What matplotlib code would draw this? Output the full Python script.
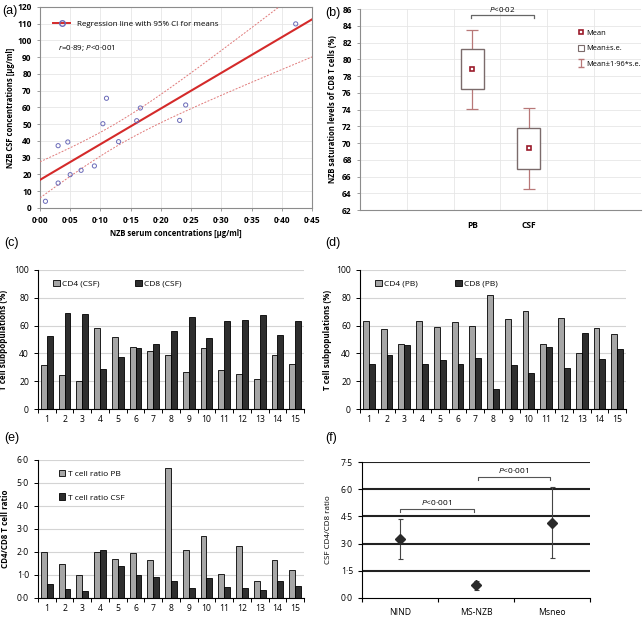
import numpy as np
import matplotlib.pyplot as plt
from matplotlib.lines import Line2D
from matplotlib.patches import Patch, Rectangle
from matplotlib.ticker import FuncFormatter

plt.rcParams['font.family'] = ['Open Sans', 'DejaVu Sans']
plt.rcParams['mathtext.fontset'] = 'custom'
plt.rcParams['mathtext.rm'] = 'Open Sans'
plt.rcParams['mathtext.it'] = 'Open Sans:italic'

# (a) NZB serum vs CSF
serum = [0.009, 0.030, 0.030, 0.046, 0.050, 0.068, 0.090, 0.104, 0.110, 0.130, 0.160, 0.166, 0.231, 0.241, 0.423]
csf_nzb = [4.0, 37.2, 14.9, 39.4, 19.9, 22.5, 25.1, 50.3, 65.5, 39.6, 52.1, 59.7, 52.3, 61.5, 109.9]

# (b) NZB saturation of CD8 T cells
sat_groups = ['PB', 'CSF']
sat_mean = [78.8, 69.35]
sat_se = [2.4, 2.45]

# (c), (d), (e) per subject
subjects = [str(i) for i in range(1, 16)]
cd4_csf = [31.7, 24.8, 19.8, 58.2, 52.0, 44.6, 41.8, 39.1, 26.3, 43.9, 28.4, 25.3, 21.7, 39.1, 32.5]
cd8_csf = [52.7, 69.2, 68.7, 28.9, 37.7, 43.7, 46.8, 56.3, 65.9, 51.3, 63.2, 63.7, 67.8, 53.5, 63.2]
cd4_pb = [63.4, 57.2, 47.1, 63.4, 59.1, 62.7, 60.0, 82.1, 64.8, 70.8, 46.7, 65.6, 40.2, 58.4, 54.1]
cd8_pb = [32.1, 39.2, 46.2, 32.1, 35.2, 32.1, 36.6, 14.6, 31.6, 26.1, 44.5, 29.2, 55.0, 35.9, 43.5]
ratio_pb = [1.98, 1.49, 1.02, 1.98, 1.69, 1.96, 1.65, 5.64, 2.08, 2.71, 1.05, 2.27, 0.72, 1.65, 1.23]
ratio_csf = [0.63, 0.38, 0.32, 2.08, 1.41, 1.02, 0.91, 0.72, 0.42, 0.88, 0.46, 0.42, 0.33, 0.76, 0.52]

# (f) CSF CD4/CD8 ratio by group
f_groups = ['NIND', 'MS-NZB', 'Msneo']
f_mean = [3.25, 0.70, 4.16]
f_err = [1.11, 0.25, 1.98]

LIGHT = '#a6a6a6'
DARK = '#2e2e2e'
dot = FuncFormatter(lambda v, p: f'{v:.2f}'.replace('.', '·'))
dot1 = FuncFormatter(lambda v, p: f'{v:.1f}'.replace('.', '·'))

fig = plt.figure(figsize=(6.44, 6.17), dpi=100)

# ---------- (a)
ax = fig.add_axes([0.0621, 0.6629, 0.4224, 0.3258])
x = np.array(serum)
y = np.array(csf_nzb)
b, a = np.polyfit(x, y, 1)
n = len(x)
s = np.sqrt(((y - (a + b * x)) ** 2).sum() / (n - 2))
sxx = ((x - x.mean()) ** 2).sum()
xx = np.linspace(0, 0.45, 200)
yy = a + b * xx
half = 2.160 * s * np.sqrt(1 / n + (xx - x.mean()) ** 2 / sxx)
ax.plot(xx, yy, color='#d42a2a', lw=1.5, zorder=3)
ax.plot(xx, yy + half, color='#e07a7a', lw=0.7, ls=(0, (2, 1.5)), zorder=3)
ax.plot(xx, yy - half, color='#e07a7a', lw=0.7, ls=(0, (2, 1.5)), zorder=3)
ax.scatter(x, y, s=9, facecolors='none', edgecolors='#6a6ab8', linewidths=0.7, zorder=4)
ax.set_xlim(0, 0.45)
ax.set_ylim(0, 120)
ax.set_xticks(np.arange(0, 0.451, 0.05))
ax.set_yticks(range(0, 121, 10))
ax.xaxis.set_major_formatter(dot)
ax.grid(color='#e6e6e6', lw=0.6)
ax.set_axisbelow(True)
for sp in ax.spines.values():
    sp.set_color('#8c8c8c')
    sp.set_linewidth(0.8)
ax.tick_params(labelsize=6, length=2.5, width=0.6, color='#8c8c8c')
for lab in ax.get_xticklabels() + ax.get_yticklabels():
    lab.set_fontweight('bold')
ax.set_xlabel('NZB serum concentrations [µg/ml]', fontsize=5.5, fontweight='bold')
ax.set_ylabel('NZB CSF concentrations [µg/ml]', fontsize=5.5, fontweight='bold')
ax.xaxis.set_label_coords(0.5, -0.105)
ax.yaxis.set_label_coords(-0.092, 0.5)
h = Line2D([], [], color='#d42a2a', lw=1.4, marker='o', mfc='none', mec='#6a6ab8', ms=4)
ax.legend([h], ['Regression line with 95% CI for means'], loc='upper left',
          bbox_to_anchor=(0.02, 0.97), frameon=False, fontsize=5.8, handlelength=2.2)
ax.text(0.065, 0.795, '$r$=0·89; $P$<0·001', transform=ax.transAxes, fontsize=5.8, va='center')

# ---------- (b)
ax = fig.add_axes([0.559, 0.6596, 0.4363, 0.3258])
pos = [1, 2]
box_c = '#7b6b6b'
wh_c = '#b87878'
for p, m, se in zip(pos, sat_mean, sat_se):
    ax.errorbar([p], [m], yerr=[1.96 * se], fmt='none', ecolor=wh_c, elinewidth=0.9,
                capsize=4, capthick=0.9, zorder=2)
    ax.add_patch(Rectangle((p - 0.2, m - se), 0.4, 2 * se, fc='white', ec=box_c, lw=1.0, zorder=3))
ax.plot(pos, sat_mean, 's', ls='none', ms=3.2, mfc='white', mec='#9b1b2b', mew=1.2, zorder=4)
ax.set_xlim(-1, 4)
ax.set_ylim(62, 86)
ax.set_yticks(range(62, 87, 2))
ax.set_xticks(np.linspace(-1, 4, 7))
ax.set_xticklabels([])
ax.set_xticks(pos, sat_groups, minor=True)
ax.tick_params(axis='x', which='minor', length=0, pad=8)
ax.tick_params(axis='x', which='major', length=0)
ax.grid(color='#e6e6e6', lw=0.6)
ax.set_axisbelow(True)
for k in ['top', 'right']:
    ax.spines[k].set_visible(False)
for k in ['left', 'bottom']:
    ax.spines[k].set_color('#8c8c8c')
    ax.spines[k].set_linewidth(0.8)
ax.tick_params(axis='y', labelsize=6, length=2.5, width=0.6, color='#8c8c8c')
ax.tick_params(axis='x', which='minor', labelsize=6)
for lab in ax.get_yticklabels() + ax.get_xticklabels(minor=True):
    lab.set_fontweight('bold')
ax.set_ylabel('NZB saturation levels of CD8 T cells (%)', fontsize=5.5, fontweight='bold')
ax.yaxis.set_label_coords(-0.082, 0.5)
ax.plot([0.975, 0.975, 2.095, 2.095], [84.95, 85.3, 85.3, 84.95], color='#666666', lw=0.9, clip_on=False)
ax.text(1.535, 85.45, '$P$<0·02', ha='center', va='bottom', fontsize=5.8, clip_on=False)
eb = ax.errorbar([np.nan], [np.nan], yerr=[1], fmt='none', ecolor=wh_c, elinewidth=0.9, capsize=2.2)
hm = Line2D([], [], marker='s', ls='none', ms=3.2, mfc='white', mec='#9b1b2b', mew=1.2)
hb = Patch(fc='white', ec=box_c, lw=0.8)
ax.legend([hm, hb, eb], ['Mean', 'Mean±s.e.', 'Mean±1·96*s.e.'], loc='upper left',
          bbox_to_anchor=(0.775, 0.9), frameon=False, fontsize=5.4, handlelength=0.8,
          handleheight=1.0, handletextpad=0.3, labelspacing=1.0, borderpad=0, borderaxespad=0)


def bar_panel(rect, v1, v2, lab1, lab2, ylim, yticks, ylabel, ylab_x, fmt, leg_kw):
    ax = fig.add_axes(rect)
    pos = np.arange(1, 16)
    ax.bar(pos - 0.165, v1, width=0.33, color=LIGHT, edgecolor='black', lw=0.6, label=lab1, zorder=2)
    ax.bar(pos + 0.165, v2, width=0.33, color=DARK, edgecolor='black', lw=0.6, label=lab2, zorder=2)
    ax.set_xlim(0.5, 15.5)
    ax.set_ylim(*ylim)
    ax.set_yticks(yticks)
    if fmt is not None:
        ax.yaxis.set_major_formatter(fmt)
    ax.set_xticks(np.arange(0.5, 15.6, 1))
    ax.set_xticklabels([])
    ax.set_xticks(pos, subjects, minor=True)
    ax.tick_params(axis='x', which='minor', length=0, labelsize=6.2, pad=4)
    ax.tick_params(axis='x', which='major', length=3, width=0.7)
    ax.tick_params(axis='y', length=3, width=0.7, labelsize=6.2)
    ax.yaxis.grid(True, color='#d4d4d4', lw=0.8)
    ax.set_axisbelow(True)
    for k in ['top', 'right']:
        ax.spines[k].set_visible(False)
    ax.spines['left'].set_linewidth(0.8)
    ax.spines['bottom'].set_linewidth(0.8)
    ax.set_ylabel(ylabel, fontsize=5.8, fontweight='bold')
    ax.yaxis.set_label_coords(ylab_x, 0.5)
    ax.legend(frameon=False, fontsize=6, handlelength=0.8, handleheight=0.8,
              handletextpad=0.3, borderaxespad=0, **leg_kw)
    return ax


bar_panel([0.059, 0.3371, 0.4131, 0.2253], cd4_csf, cd8_csf, 'CD4 (CSF)', 'CD8 (CSF)',
          (0, 100), range(0, 101, 20), 'T cell subpopulations (%)', -0.113, None,
          dict(ncol=2, loc='upper left', bbox_to_anchor=(0.045, 0.955), columnspacing=4.2))
bar_panel([0.559, 0.3371, 0.4131, 0.2253], cd4_pb, cd8_pb, 'CD4 (PB)', 'CD8 (PB)',
          (0, 100), range(0, 101, 20), 'T cell subpopulations (%)', -0.106, None,
          dict(ncol=2, loc='upper left', bbox_to_anchor=(0.045, 0.955), columnspacing=4.4))
bar_panel([0.059, 0.0308, 0.4131, 0.2237], ratio_pb, ratio_csf, 'T cell ratio PB', 'T cell ratio CSF',
          (0, 6), np.arange(0, 6.1, 1), 'CD4/CD8 T cell ratio', -0.105, dot1,
          dict(ncol=1, loc='upper left', bbox_to_anchor=(0.065, 0.955), labelspacing=1.9))

# ---------- (f)
ax = fig.add_axes([0.5621, 0.0308, 0.354, 0.2204])
fx = [1, 2, 3]
for yv in [1.5, 3.0, 4.5, 6.0, 7.5]:
    ax.axhline(yv, color='#222222', lw=1.5, zorder=1)
ax.errorbar(fx, f_mean, yerr=f_err, fmt='D', color='#2a2a2a', ms=5.5, ecolor='#444444',
            elinewidth=0.8, capsize=1.8, capthick=0.8, zorder=3)
ax.set_xlim(0.5, 3.5)
ax.set_ylim(0, 7.5)
ax.set_yticks(np.arange(0, 7.6, 1.5))
ax.yaxis.set_major_formatter(dot1)
ax.set_xticks([0.5, 1.5, 2.5, 3.5])
ax.set_xticklabels([])
ax.set_xticks(fx, f_groups, minor=True)
ax.tick_params(axis='x', which='minor', length=0, labelsize=6.2, pad=7)
ax.tick_params(axis='x', which='major', length=3, width=0.8)
ax.tick_params(axis='y', length=3, width=0.8, labelsize=6.2)
for k in ['top', 'right']:
    ax.spines[k].set_visible(False)
ax.set_ylabel('CSF CD4/CD8 ratio', fontsize=5.8)
ax.yaxis.set_label_coords(-0.13, 0.5)
ax.plot([1.0, 1.0, 1.975, 1.975], [4.74, 4.92, 4.92, 4.74], color='#555555', lw=0.8)
ax.text(1.48, 5.0, '$P$<0·001', ha='center', va='bottom', fontsize=6)
ax.plot([2.02, 2.02, 2.98, 2.98], [6.5, 6.69, 6.69, 6.5], color='#555555', lw=0.8)
ax.text(2.49, 6.77, '$P$<0·001', ha='center', va='bottom', fontsize=6)

for lx, ly, t in [(0.003, 0.982, '(a)'), (0.505, 0.979, '(b)'), (0.006, 0.606, '(c)'),
                  (0.505, 0.606, '(d)'), (0.006, 0.29, '(e)'), (0.505, 0.29, '(f)')]:
    fig.text(lx, ly, t, fontsize=9, family='Liberation Sans', va='center')

fig.savefig('out.png', dpi=100)
